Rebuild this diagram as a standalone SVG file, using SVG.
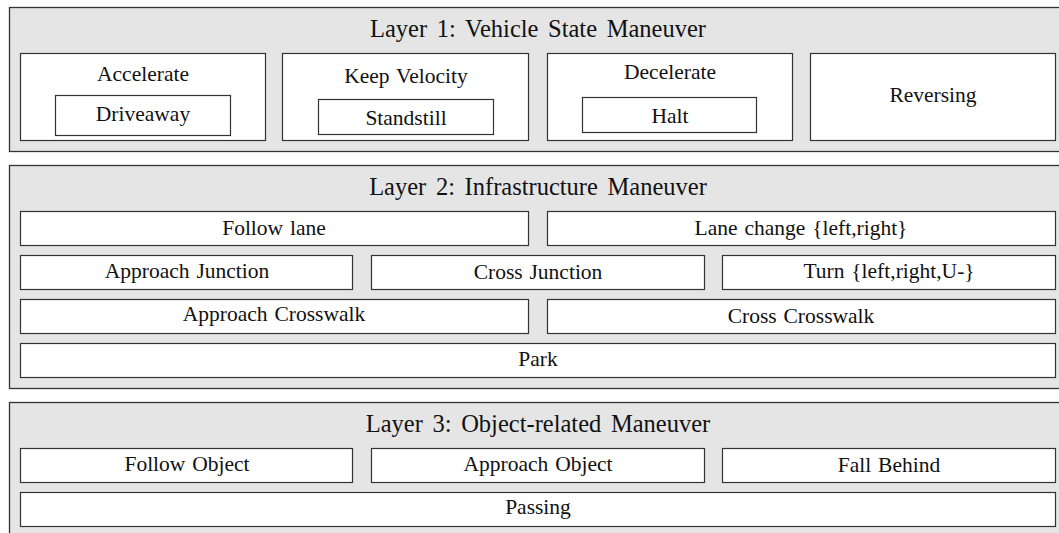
<svg xmlns="http://www.w3.org/2000/svg" width="1059" height="533" viewBox="0 0 1059 533">
<style>
.layer{fill:#e5e5e5;stroke:#333;stroke-width:1.3}
.box{fill:#fff;stroke:#333;stroke-width:1.2}
text{font-family:"Liberation Serif","Times New Roman",serif;fill:#111;text-anchor:middle}
.t{font-size:24.5px;word-spacing:3.5px}
.n{font-size:21.5px;word-spacing:1.5px}
</style>
<rect width="1059" height="533" fill="#fff"/>
<g id="layer1">
<rect class="layer" x="9.5" y="7.5" width="1058" height="144"/>
<text class="t" x="538" y="37">Layer 1: Vehicle State Maneuver</text>
</g>
<g id="accelerate">
<rect class="box" x="20.5" y="53.5" width="245" height="87"/>
<text class="n" x="143" y="81">Accelerate</text>
</g>
<g id="driveaway">
<rect class="box" x="55.5" y="95.5" width="175" height="40"/>
<text class="n" x="143" y="121">Driveaway</text>
</g>
<g id="keep-velocity">
<rect class="box" x="282.5" y="53.5" width="246" height="87"/>
<text class="n" x="406" y="82.5">Keep Velocity</text>
</g>
<g id="standstill">
<rect class="box" x="318.5" y="99.5" width="175" height="35"/>
<text class="n" x="406" y="124.5">Standstill</text>
</g>
<g id="decelerate">
<rect class="box" x="547.5" y="53.5" width="245" height="87"/>
<text class="n" x="670" y="79">Decelerate</text>
</g>
<g id="halt">
<rect class="box" x="582.5" y="97.5" width="174" height="35"/>
<text class="n" x="670" y="123">Halt</text>
</g>
<g id="reversing">
<rect class="box" x="810.5" y="53.5" width="245" height="87"/>
<text class="n" x="933" y="102">Reversing</text>
</g>
<g id="layer2">
<rect class="layer" x="9.5" y="165.5" width="1058" height="223"/>
<text class="t" x="538" y="195">Layer 2: Infrastructure Maneuver</text>
</g>
<g id="follow-lane">
<rect class="box" x="20.5" y="211.5" width="508" height="34"/>
<text class="n" x="274" y="235">Follow lane</text>
</g>
<g id="lane-change">
<rect class="box" x="547.5" y="211.5" width="508" height="34"/>
<text class="n" x="801" y="235">Lane change {left,right}</text>
</g>
<g id="approach-junction">
<rect class="box" x="20.5" y="255.5" width="332" height="34"/>
<text class="n" x="187" y="278">Approach Junction</text>
</g>
<g id="cross-junction">
<rect class="box" x="371.5" y="255.5" width="333" height="34"/>
<text class="n" x="538" y="279">Cross Junction</text>
</g>
<g id="turn">
<rect class="box" x="722.5" y="255.5" width="333" height="34"/>
<text class="n" x="889" y="278">Turn {left,right,U-}</text>
</g>
<g id="approach-crosswalk">
<rect class="box" x="20.5" y="299.5" width="508" height="34"/>
<text class="n" x="274" y="321">Approach Crosswalk</text>
</g>
<g id="cross-crosswalk">
<rect class="box" x="547.5" y="299.5" width="508" height="34"/>
<text class="n" x="801" y="323">Cross Crosswalk</text>
</g>
<g id="park">
<rect class="box" x="20.5" y="343.5" width="1035" height="34"/>
<text class="n" x="538" y="366">Park</text>
</g>
<g id="layer3">
<rect class="layer" x="9.5" y="402.5" width="1058" height="150"/>
<text class="t" x="538" y="432">Layer 3: Object-related Maneuver</text>
</g>
<g id="follow-object">
<rect class="box" x="20.5" y="448.5" width="332" height="34"/>
<text class="n" x="187" y="471">Follow Object</text>
</g>
<g id="approach-object">
<rect class="box" x="371.5" y="448.5" width="333" height="34"/>
<text class="n" x="538" y="470.5">Approach Object</text>
</g>
<g id="fall-behind">
<rect class="box" x="722.5" y="448.5" width="333" height="34"/>
<text class="n" x="889" y="472">Fall Behind</text>
</g>
<g id="passing">
<rect class="box" x="20.5" y="492.5" width="1035" height="34"/>
<text class="n" x="538" y="513.5">Passing</text>
</g>
<g id="connectors"/>
</svg>
